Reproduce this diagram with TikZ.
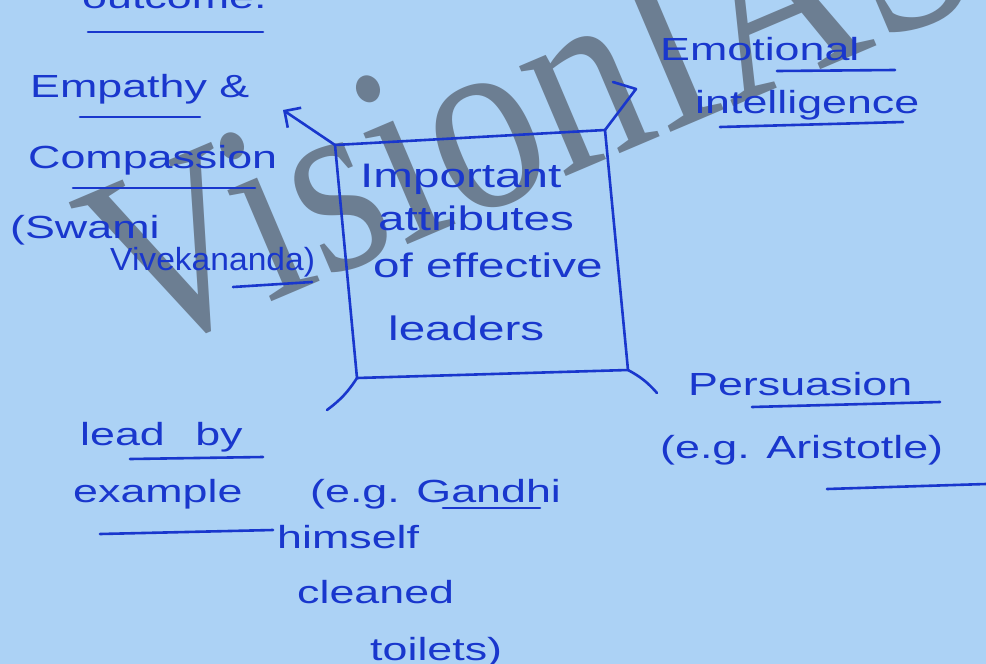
\documentclass[tikz,border=0pt]{standalone}
\usepackage{fontspec}
\usetikzlibrary{arrows.meta}
\newfontfamily\hand[FakeStretch=1.4]{Liberation Sans}
\newfontfamily\handnarrow[FakeStretch=1.05]{Liberation Sans}
\newfontfamily\wmfont[FakeStretch=0.85]{Liberation Serif}
\definecolor{paper}{RGB}{172,210,245}
\definecolor{ink}{RGB}{25,55,205}
\definecolor{wmgray}{RGB}{108,126,146}
\tikzset{
  hw/.style={font=\hand\fontsize{32}{32}\selectfont, text=ink, anchor=base west, inner sep=0pt},
  corehw/.style={hw, font=\hand\fontsize{34}{34}\selectfont},
  pen/.style={draw=ink, line width=2.6pt, line cap=round, line join=round},
}

\begin{document}
\begin{tikzpicture}[x=1pt,y=1pt]
\fill[paper] (0,0) rectangle (986,-664);
\clip (0,0) rectangle (986,-664);
\node[font=\wmfont\fontsize{260}{260}\selectfont, text=wmgray, rotate=23, anchor=base west, inner sep=0pt] (wm) at (133,-361) {VisionIAS};

% central box
\coordinate (tl) at (335,-145);
\coordinate (tr) at (605,-130);
\coordinate (br) at (628,-370);
\coordinate (bl) at (357,-378);
\draw[pen] (tl) -- (tr) -- (br) -- (bl) -- cycle;
\node[corehw] (imp) at (360,-187) {Important};
\node[corehw] (attr) at (378,-230) {attributes};
\node[corehw] (eff) at (373,-277) {of effective};
\node[corehw] (ldr) at (388,-340) {leaders};

% top left
\node[hw] (outc) at (82,-8) {outcome.};
\node[hw] (emp) at (30,-97) {Empathy \&};
\node[hw] (comp) at (28,-168) {Compassion};
\node[hw] (swami) at (10,-238) {(Swami};
\node[hw, font=\handnarrow\fontsize{32}{32}\selectfont] (vivek) at (110,-270) {Vivekananda)};
\coordinate (empTip) at (283,-110);
\draw[pen, -{Straight Barb[length=12pt,width=24pt]}] (tl) -- (empTip);

% top right
\node[hw] (emo) at (660,-60) {Emotional};
\node[hw] (intel) at (695,-113) {intelligence};
\coordinate (eiTip) at (636,-89);
\draw[pen] (tr) -- (eiTip) -- (613,-82);

% bottom right
\node[hw] (pers) at (688,-395) {Persuasion};
\node[hw] (arist) at (660,-458) {(e.g. Aristotle)};
\coordinate (persEnd) at (657,-393);
\draw[pen] (br) to[bend left=10] (persEnd);

% bottom left
\node[hw] (leadby) at (80,-445) {lead\hspace{18pt} by};
\node[hw] (exa) at (73,-502) {example};
\node[hw] (gandhi) at (310,-502) {(e.g. Gandhi};
\node[hw] (him) at (277,-548) {himself};
\node[hw] (clean) at (297,-603) {cleaned};
\node[hw] (toil) at (370,-660) {toilets)};
\coordinate (leadEnd) at (327,-410);
\draw[pen] (bl) to[bend left=10] (leadEnd);

% underlines
\draw[pen] (88,-32) -- (263,-32);
\draw[pen] (80,-117) -- (200,-117);
\draw[pen] (73,-188) -- (255,-188);
\draw[pen] (233,-287) -- (312,-282);
\draw[pen] (777,-71) -- (895,-70);
\draw[pen] (720,-127) -- (903,-122);
\draw[pen] (752,-407) -- (940,-402);
\draw[pen] (827,-489) -- (986,-484);
\draw[pen] (130,-459) -- (263,-457);
\draw[pen] (443,-508) -- (540,-508);
\draw[pen] (100,-534) -- (273,-530);
\end{tikzpicture}
\end{document}
